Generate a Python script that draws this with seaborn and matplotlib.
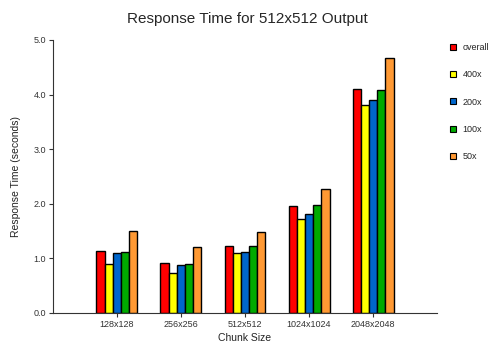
import matplotlib
matplotlib.use("Agg")
import matplotlib.pyplot as plt
from matplotlib.lines import Line2D
import pandas as pd
import seaborn as sns

# Chunk sizes on the x axis
chunk_sizes = ["128x128", "256x256", "512x512", "1024x1024", "2048x2048"]
# Series (zoom levels) and their response times in seconds
series = ["overall", "400x", "200x", "100x", "50x"]
overall = [1.13, 0.92, 1.23, 1.95, 4.11]
zoom_400x = [0.90, 0.74, 1.09, 1.73, 3.80]
zoom_200x = [1.09, 0.88, 1.12, 1.81, 3.90]
zoom_100x = [1.11, 0.90, 1.22, 1.98, 4.09]
zoom_50x = [1.50, 1.21, 1.49, 2.27, 4.66]
colors = ["#FF0000", "#FFFF00", "#0066CC", "#00AA00", "#FF9933"]
y_ticks = [0.0, 1.0, 2.0, 3.0, 4.0, 5.0]

values = [overall, zoom_400x, zoom_200x, zoom_100x, zoom_50x]
rows = []
for name, vals in zip(series, values):
    for size, v in zip(chunk_sizes, vals):
        rows.append({"Chunk Size": size, "Series": name, "Time": v})
df = pd.DataFrame(rows)

sns.set_style("white")
plt.rcParams["font.family"] = ["Liberation Sans", "DejaVu Sans"]

fig = plt.figure(figsize=(4.9, 3.47), dpi=100)
ax = fig.add_axes([0.108, 0.098, 0.784, 0.787])

sns.barplot(data=df, x="Chunk Size", y="Time", hue="Series",
            order=chunk_sizes, hue_order=series, palette=colors,
            width=0.64, edgecolor="black", linewidth=1.0,
            saturation=1, errorbar=None, legend=False, ax=ax)

ax.set_xlim(-1, 5)
ax.set_ylim(0, 5.0)
ax.set_yticks(y_ticks)
ax.set_yticklabels([f"{t:.1f}" for t in y_ticks], fontsize=6.5, color="#333333")
ax.tick_params(axis="x", labelsize=6.5, labelcolor="#333333", length=3,
               width=0.8, color="#333333", bottom=True, pad=2)
ax.tick_params(axis="y", length=3, width=0.8, color="#333333", left=True, pad=2)

for side in ("top", "right"):
    ax.spines[side].set_visible(False)
for side in ("left", "bottom"):
    ax.spines[side].set_color("#333333")
    ax.spines[side].set_linewidth(0.8)

ax.set_xlabel("Chunk Size", fontsize=7.5, color="#222222", labelpad=3)
ax.set_ylabel("Response Time (seconds)", fontsize=7.5, color="#222222", labelpad=9)
fig.suptitle("Response Time for 512x512 Output", fontsize=11, x=0.505, y=0.965)

handles = [Line2D([], [], marker="s", linestyle="none", markersize=5,
                  markerfacecolor=c, markeredgecolor="black", markeredgewidth=0.8)
           for c in colors]
fig.legend(handles, series, loc="upper left", bbox_to_anchor=(0.918, 0.876),
           frameon=False, fontsize=6.5, handlelength=0.8, handletextpad=0.6,
           labelspacing=2.02, borderaxespad=0, borderpad=0)

fig.savefig("out.png", dpi=100)
